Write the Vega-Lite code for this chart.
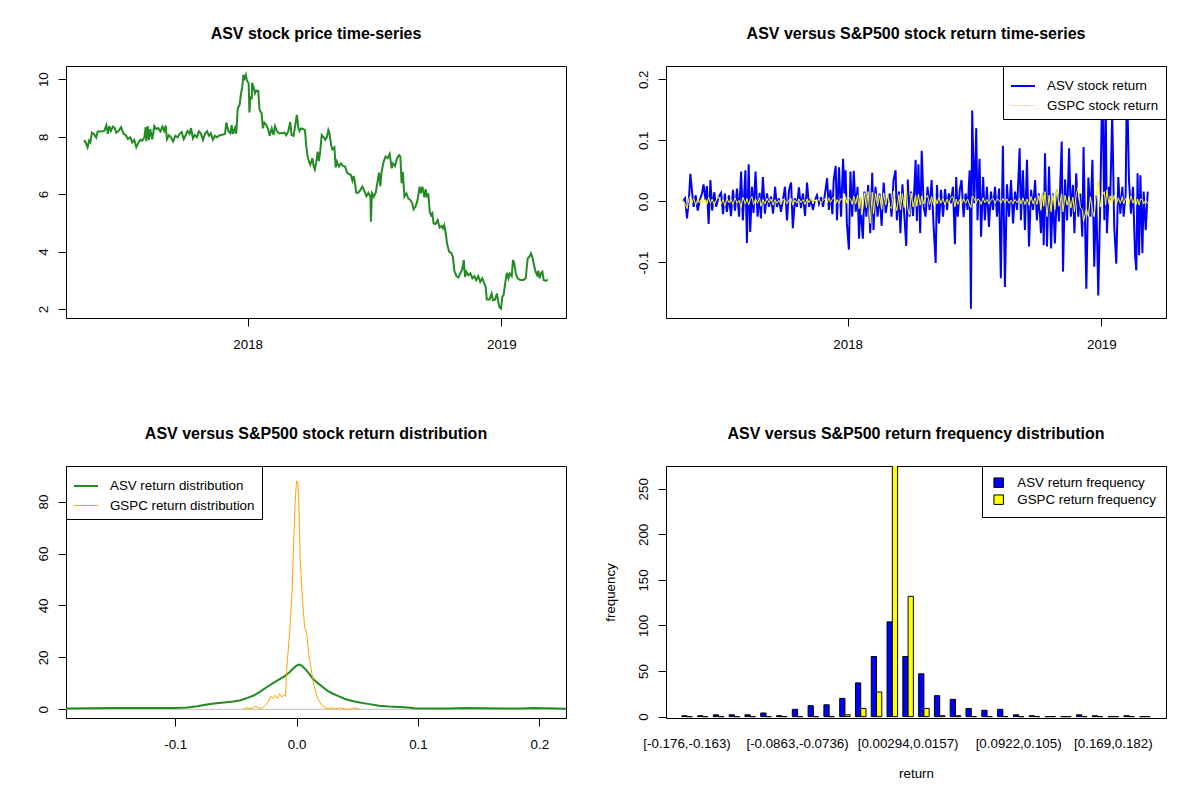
{
  "$schema": "https://vega.github.io/schema/vega-lite/v6.json",
  "padding": {"left": 35, "top": 25, "right": 5, "bottom": 5},
  "columns": 2,
  "spacing": {"row": 148, "column": 100},
  "bounds": "flush",
  "resolve": {"scale": {"color": "independent", "strokeWidth": "independent"}, "legend": {"color": "independent", "strokeWidth": "independent"}},
  "datasets": {
    "price": [
      {"t":2017.354,"price":7.86},{"t":2017.360,"price":7.83},{"t":2017.369,"price":7.63},{"t":2017.375,"price":7.86},{"t":2017.380,"price":7.80},
      {"t":2017.386,"price":8.14},{"t":2017.393,"price":8.10},{"t":2017.403,"price":7.97},{"t":2017.409,"price":8.18},{"t":2017.426,"price":8.19},
      {"t":2017.435,"price":8.20},{"t":2017.443,"price":8.40},{"t":2017.449,"price":8.10},{"t":2017.455,"price":8.37},{"t":2017.461,"price":8.20},
      {"t":2017.469,"price":8.35},{"t":2017.476,"price":8.30},{"t":2017.482,"price":8.14},{"t":2017.491,"price":8.20},{"t":2017.501,"price":8.33},
      {"t":2017.511,"price":8.10},{"t":2017.520,"price":8.05},{"t":2017.528,"price":7.92},{"t":2017.537,"price":7.98},{"t":2017.545,"price":7.80},
      {"t":2017.553,"price":7.89},{"t":2017.561,"price":7.63},{"t":2017.568,"price":7.77},{"t":2017.577,"price":7.89},{"t":2017.585,"price":7.86},
      {"t":2017.593,"price":7.98},{"t":2017.598,"price":8.33},{"t":2017.601,"price":7.84},{"t":2017.606,"price":8.37},{"t":2017.611,"price":7.89},
      {"t":2017.616,"price":8.26},{"t":2017.624,"price":7.91},{"t":2017.632,"price":8.37},{"t":2017.640,"price":8.26},{"t":2017.648,"price":8.30},
      {"t":2017.656,"price":8.18},{"t":2017.664,"price":8.35},{"t":2017.671,"price":8.20},{"t":2017.677,"price":8.39},{"t":2017.682,"price":7.91},
      {"t":2017.690,"price":8.05},{"t":2017.698,"price":7.98},{"t":2017.706,"price":7.83},{"t":2017.715,"price":8.03},{"t":2017.724,"price":7.98},
      {"t":2017.732,"price":8.10},{"t":2017.740,"price":8.16},{"t":2017.748,"price":7.91},{"t":2017.756,"price":8.06},{"t":2017.763,"price":8.20},
      {"t":2017.771,"price":8.10},{"t":2017.777,"price":8.30},{"t":2017.784,"price":7.94},{"t":2017.792,"price":8.06},{"t":2017.800,"price":7.98},
      {"t":2017.808,"price":8.19},{"t":2017.816,"price":8.10},{"t":2017.824,"price":7.89},{"t":2017.832,"price":8.10},{"t":2017.840,"price":8.19},
      {"t":2017.848,"price":8.03},{"t":2017.855,"price":8.12},{"t":2017.863,"price":7.89},{"t":2017.871,"price":8.03},{"t":2017.879,"price":7.98},
      {"t":2017.890,"price":8.05},{"t":2017.900,"price":8.07},{"t":2017.911,"price":8.10},{"t":2017.916,"price":8.49},{"t":2017.924,"price":8.20},
      {"t":2017.932,"price":8.12},{"t":2017.937,"price":8.40},{"t":2017.942,"price":8.10},{"t":2017.950,"price":8.30},{"t":2017.955,"price":8.10},
      {"t":2017.961,"price":8.99},{"t":2017.968,"price":9.10},{"t":2017.974,"price":9.51},{"t":2017.979,"price":9.74},{"t":2017.983,"price":10.15},
      {"t":2017.988,"price":10.03},{"t":2017.993,"price":10.15},{"t":2017.997,"price":9.95},{"t":2018.004,"price":9.86},{"t":2018.007,"price":8.84},
      {"t":2018.011,"price":9.40},{"t":2018.016,"price":9.30},{"t":2018.018,"price":9.88},{"t":2018.024,"price":9.69},{"t":2018.029,"price":9.51},
      {"t":2018.034,"price":9.60},{"t":2018.042,"price":9.59},{"t":2018.047,"price":8.93},{"t":2018.055,"price":8.82},{"t":2018.060,"price":8.29},
      {"t":2018.066,"price":8.49},{"t":2018.074,"price":8.40},{"t":2018.081,"price":8.26},{"t":2018.087,"price":8.03},{"t":2018.095,"price":8.29},
      {"t":2018.102,"price":8.06},{"t":2018.108,"price":8.37},{"t":2018.116,"price":8.18},{"t":2018.124,"price":8.12},{"t":2018.134,"price":8.12},
      {"t":2018.145,"price":8.14},{"t":2018.152,"price":8.05},{"t":2018.160,"price":8.18},{"t":2018.168,"price":8.51},{"t":2018.173,"price":8.06},
      {"t":2018.181,"price":8.03},{"t":2018.189,"price":8.47},{"t":2018.194,"price":8.76},{"t":2018.200,"price":8.29},{"t":2018.205,"price":8.20},
      {"t":2018.210,"price":8.29},{"t":2018.218,"price":8.27},{"t":2018.226,"price":8.23},{"t":2018.231,"price":7.68},{"t":2018.237,"price":7.28},
      {"t":2018.242,"price":7.13},{"t":2018.247,"price":7.02},{"t":2018.255,"price":7.25},{"t":2018.260,"price":6.98},{"t":2018.265,"price":6.86},
      {"t":2018.271,"price":7.13},{"t":2018.276,"price":7.48},{"t":2018.281,"price":7.15},{"t":2018.286,"price":7.48},{"t":2018.292,"price":8.06},
      {"t":2018.300,"price":7.98},{"t":2018.306,"price":7.89},{"t":2018.313,"price":8.00},{"t":2018.318,"price":8.23},{"t":2018.323,"price":8.10},
      {"t":2018.329,"price":7.71},{"t":2018.334,"price":7.56},{"t":2018.342,"price":7.63},{"t":2018.347,"price":6.93},{"t":2018.352,"price":7.13},
      {"t":2018.360,"price":6.96},{"t":2018.368,"price":7.07},{"t":2018.376,"price":6.98},{"t":2018.384,"price":6.96},{"t":2018.392,"price":6.75},
      {"t":2018.399,"price":6.70},{"t":2018.407,"price":6.67},{"t":2018.413,"price":6.47},{"t":2018.418,"price":6.63},{"t":2018.423,"price":6.40},
      {"t":2018.428,"price":6.05},{"t":2018.436,"price":6.05},{"t":2018.444,"price":6.14},{"t":2018.452,"price":6.26},{"t":2018.460,"price":6.12},
      {"t":2018.468,"price":5.93},{"t":2018.476,"price":6.05},{"t":2018.484,"price":5.91},{"t":2018.486,"price":5.04},{"t":2018.490,"price":6.03},
      {"t":2018.497,"price":5.91},{"t":2018.505,"price":6.05},{"t":2018.510,"price":6.32},{"t":2018.518,"price":6.75},{"t":2018.523,"price":6.28},
      {"t":2018.528,"price":6.78},{"t":2018.536,"price":7.13},{"t":2018.544,"price":7.31},{"t":2018.552,"price":7.25},{"t":2018.560,"price":7.40},
      {"t":2018.568,"price":6.90},{"t":2018.573,"price":7.07},{"t":2018.581,"price":6.98},{"t":2018.589,"price":7.25},{"t":2018.597,"price":7.36},
      {"t":2018.602,"price":7.31},{"t":2018.607,"price":6.38},{"t":2018.612,"price":6.78},{"t":2018.618,"price":5.91},{"t":2018.626,"price":6.03},
      {"t":2018.633,"price":5.85},{"t":2018.641,"price":5.80},{"t":2018.649,"price":5.68},{"t":2018.654,"price":5.47},{"t":2018.662,"price":5.57},
      {"t":2018.670,"price":5.80},{"t":2018.678,"price":6.26},{"t":2018.683,"price":6.03},{"t":2018.689,"price":6.26},{"t":2018.697,"price":5.89},
      {"t":2018.702,"price":6.17},{"t":2018.707,"price":5.89},{"t":2018.712,"price":6.03},{"t":2018.718,"price":5.39},{"t":2018.723,"price":5.27},
      {"t":2018.728,"price":5.33},{"t":2018.733,"price":4.98},{"t":2018.741,"price":4.96},{"t":2018.749,"price":5.10},{"t":2018.757,"price":4.84},
      {"t":2018.765,"price":4.89},{"t":2018.770,"price":4.81},{"t":2018.775,"price":4.92},{"t":2018.781,"price":4.63},{"t":2018.786,"price":4.29},
      {"t":2018.794,"price":4.00},{"t":2018.802,"price":3.96},{"t":2018.809,"price":3.82},{"t":2018.815,"price":3.33},{"t":2018.823,"price":3.15},
      {"t":2018.831,"price":3.10},{"t":2018.838,"price":3.24},{"t":2018.846,"price":3.38},{"t":2018.852,"price":3.71},{"t":2018.857,"price":3.12},
      {"t":2018.862,"price":3.30},{"t":2018.870,"price":3.18},{"t":2018.878,"price":3.24},{"t":2018.886,"price":3.07},{"t":2018.894,"price":3.15},
      {"t":2018.901,"price":3.01},{"t":2018.909,"price":3.15},{"t":2018.917,"price":2.95},{"t":2018.925,"price":3.07},{"t":2018.933,"price":2.89},
      {"t":2018.938,"price":2.78},{"t":2018.943,"price":2.33},{"t":2018.954,"price":2.33},{"t":2018.962,"price":2.54},{"t":2018.967,"price":2.31},
      {"t":2018.975,"price":2.33},{"t":2018.983,"price":2.54},{"t":2018.988,"price":2.25},{"t":2018.993,"price":2.06},{"t":2018.999,"price":2.02},
      {"t":2019.004,"price":2.43},{"t":2019.009,"price":2.49},{"t":2019.017,"price":3.01},{"t":2019.022,"price":3.26},{"t":2019.028,"price":3.07},
      {"t":2019.033,"price":3.24},{"t":2019.041,"price":3.15},{"t":2019.046,"price":3.71},{"t":2019.051,"price":3.59},{"t":2019.057,"price":3.24},
      {"t":2019.064,"price":3.07},{"t":2019.075,"price":3.01},{"t":2019.088,"price":3.01},{"t":2019.096,"price":3.07},{"t":2019.104,"price":3.76},
      {"t":2019.112,"price":3.84},{"t":2019.117,"price":3.94},{"t":2019.122,"price":3.82},{"t":2019.128,"price":3.57},{"t":2019.135,"price":3.30},
      {"t":2019.141,"price":3.18},{"t":2019.146,"price":3.33},{"t":2019.151,"price":3.07},{"t":2019.156,"price":3.24},{"t":2019.162,"price":3.30},
      {"t":2019.167,"price":3.01},{"t":2019.175,"price":2.98},{"t":2019.183,"price":3.03}
    ],
    "returns": [
      {"t":2017.351,"asv":0.000,"gspc":0.002},{"t":2017.359,"asv":0.005,"gspc":-0.004},{"t":2017.367,"asv":-0.028,"gspc":-0.012},
      {"t":2017.375,"asv":0.008,"gspc":0.006},{"t":2017.380,"asv":0.045,"gspc":0.008},{"t":2017.386,"asv":0.019,"gspc":-0.003},
      {"t":2017.393,"asv":-0.009,"gspc":0.005},{"t":2017.401,"asv":0.010,"gspc":-0.006},{"t":2017.409,"asv":-0.015,"gspc":0.004},
      {"t":2017.417,"asv":0.002,"gspc":-0.002},{"t":2017.426,"asv":0.013,"gspc":0.006},{"t":2017.432,"asv":0.028,"gspc":-0.004},
      {"t":2017.440,"asv":0.002,"gspc":0.003},{"t":2017.445,"asv":0.025,"gspc":-0.005},{"t":2017.452,"asv":-0.037,"gspc":0.007},
      {"t":2017.459,"asv":0.035,"gspc":-0.003},{"t":2017.466,"asv":-0.015,"gspc":0.004},{"t":2017.474,"asv":0.015,"gspc":-0.006},
      {"t":2017.482,"asv":-0.009,"gspc":0.002},{"t":2017.491,"asv":0.007,"gspc":0.008},{"t":2017.501,"asv":0.014,"gspc":-0.004},
      {"t":2017.509,"asv":-0.021,"gspc":0.003},{"t":2017.516,"asv":0.013,"gspc":-0.007},{"t":2017.524,"asv":-0.017,"gspc":0.005},
      {"t":2017.532,"asv":0.010,"gspc":-0.002},{"t":2017.540,"asv":-0.024,"gspc":0.004},{"t":2017.548,"asv":0.019,"gspc":-0.005},
      {"t":2017.556,"asv":-0.015,"gspc":0.006},{"t":2017.564,"asv":0.021,"gspc":-0.003},{"t":2017.572,"asv":-0.025,"gspc":0.002},
      {"t":2017.580,"asv":0.049,"gspc":-0.010},{"t":2017.587,"asv":-0.031,"gspc":0.007},{"t":2017.597,"asv":0.051,"gspc":-0.004},
      {"t":2017.603,"asv":-0.068,"gspc":0.005},{"t":2017.610,"asv":0.061,"gspc":-0.006},{"t":2017.616,"asv":-0.050,"gspc":0.003},
      {"t":2017.623,"asv":0.024,"gspc":0.008},{"t":2017.629,"asv":-0.019,"gspc":-0.005},{"t":2017.637,"asv":0.049,"gspc":0.004},
      {"t":2017.645,"asv":-0.025,"gspc":-0.003},{"t":2017.653,"asv":0.014,"gspc":0.006},{"t":2017.658,"asv":-0.028,"gspc":-0.008},
      {"t":2017.666,"asv":0.040,"gspc":0.003},{"t":2017.674,"asv":-0.020,"gspc":-0.004},{"t":2017.682,"asv":0.013,"gspc":0.005},
      {"t":2017.690,"asv":-0.009,"gspc":-0.002},{"t":2017.698,"asv":0.008,"gspc":0.004},{"t":2017.706,"asv":-0.020,"gspc":-0.006},
      {"t":2017.714,"asv":0.024,"gspc":0.003},{"t":2017.721,"asv":-0.009,"gspc":-0.003},{"t":2017.729,"asv":0.005,"gspc":0.002},
      {"t":2017.737,"asv":-0.017,"gspc":-0.005},{"t":2017.745,"asv":0.002,"gspc":0.004},{"t":2017.753,"asv":0.024,"gspc":0.002},
      {"t":2017.761,"asv":-0.031,"gspc":-0.004},{"t":2017.769,"asv":0.019,"gspc":0.003},{"t":2017.777,"asv":0.031,"gspc":0.005},
      {"t":2017.784,"asv":-0.044,"gspc":-0.006},{"t":2017.792,"asv":0.005,"gspc":0.002},{"t":2017.800,"asv":-0.009,"gspc":-0.003},
      {"t":2017.808,"asv":0.023,"gspc":0.004},{"t":2017.816,"asv":-0.011,"gspc":-0.002},{"t":2017.824,"asv":0.013,"gspc":0.003},
      {"t":2017.832,"asv":-0.024,"gspc":-0.005},{"t":2017.840,"asv":0.031,"gspc":0.004},{"t":2017.848,"asv":-0.009,"gspc":-0.002},
      {"t":2017.855,"asv":0.005,"gspc":0.006},{"t":2017.863,"asv":-0.014,"gspc":-0.004},{"t":2017.871,"asv":0.002,"gspc":0.003},
      {"t":2017.879,"asv":0.010,"gspc":-0.002},{"t":2017.887,"asv":-0.004,"gspc":0.005},{"t":2017.895,"asv":0.007,"gspc":-0.003},
      {"t":2017.903,"asv":-0.009,"gspc":0.002},{"t":2017.911,"asv":0.013,"gspc":0.004},{"t":2017.919,"asv":0.038,"gspc":-0.003},
      {"t":2017.926,"asv":-0.014,"gspc":0.006},{"t":2017.932,"asv":0.019,"gspc":-0.002},{"t":2017.940,"asv":-0.021,"gspc":0.004},
      {"t":2017.945,"asv":0.035,"gspc":0.007},{"t":2017.953,"asv":0.058,"gspc":-0.004},{"t":2017.958,"asv":-0.031,"gspc":0.003},
      {"t":2017.966,"asv":0.056,"gspc":-0.003},{"t":2017.974,"asv":-0.025,"gspc":0.005},{"t":2017.982,"asv":0.070,"gspc":0.002},
      {"t":2017.987,"asv":0.013,"gspc":-0.004},{"t":2017.992,"asv":0.051,"gspc":0.008},{"t":2017.997,"asv":-0.036,"gspc":-0.003},
      {"t":2018.005,"asv":-0.079,"gspc":0.006},{"t":2018.011,"asv":0.049,"gspc":0.004},{"t":2018.018,"asv":-0.025,"gspc":-0.005},
      {"t":2018.024,"asv":0.050,"gspc":0.009},{"t":2018.032,"asv":-0.017,"gspc":-0.004},{"t":2018.039,"asv":0.024,"gspc":0.010},
      {"t":2018.045,"asv":-0.061,"gspc":-0.012},{"t":2018.050,"asv":0.005,"gspc":0.008},{"t":2018.055,"asv":-0.036,"gspc":-0.022},
      {"t":2018.060,"asv":-0.061,"gspc":-0.012},{"t":2018.066,"asv":0.016,"gspc":0.014},{"t":2018.074,"asv":-0.025,"gspc":-0.010},
      {"t":2018.081,"asv":0.027,"gspc":0.016},{"t":2018.089,"asv":-0.052,"gspc":-0.036},{"t":2018.097,"asv":0.047,"gspc":0.015},
      {"t":2018.102,"asv":-0.047,"gspc":-0.020},{"t":2018.110,"asv":0.024,"gspc":0.013},{"t":2018.118,"asv":-0.025,"gspc":-0.008},
      {"t":2018.126,"asv":0.013,"gspc":0.010},{"t":2018.134,"asv":-0.040,"gspc":-0.013},{"t":2018.142,"asv":0.031,"gspc":0.014},
      {"t":2018.150,"asv":-0.019,"gspc":-0.006},{"t":2018.158,"asv":0.002,"gspc":0.012},{"t":2018.166,"asv":0.013,"gspc":-0.009},
      {"t":2018.173,"asv":-0.025,"gspc":-0.012},{"t":2018.181,"asv":0.035,"gspc":0.017},{"t":2018.189,"asv":0.051,"gspc":-0.007},
      {"t":2018.194,"asv":-0.031,"gspc":-0.015},{"t":2018.202,"asv":0.016,"gspc":0.011},{"t":2018.208,"asv":-0.052,"gspc":-0.014},
      {"t":2018.216,"asv":0.028,"gspc":0.013},{"t":2018.223,"asv":-0.020,"gspc":-0.010},{"t":2018.231,"asv":-0.073,"gspc":0.027},
      {"t":2018.237,"asv":0.036,"gspc":-0.012},{"t":2018.244,"asv":-0.025,"gspc":-0.022},{"t":2018.250,"asv":0.016,"gspc":0.014},
      {"t":2018.258,"asv":-0.024,"gspc":-0.009},{"t":2018.268,"asv":0.068,"gspc":0.010},{"t":2018.273,"asv":-0.032,"gspc":-0.008},
      {"t":2018.279,"asv":0.061,"gspc":0.012},{"t":2018.286,"asv":-0.052,"gspc":-0.006},{"t":2018.292,"asv":0.083,"gspc":0.009},
      {"t":2018.300,"asv":-0.009,"gspc":-0.004},{"t":2018.307,"asv":-0.025,"gspc":0.006},{"t":2018.315,"asv":0.024,"gspc":0.010},
      {"t":2018.323,"asv":-0.014,"gspc":-0.005},{"t":2018.331,"asv":0.035,"gspc":0.008},{"t":2018.339,"asv":-0.042,"gspc":-0.006},
      {"t":2018.347,"asv":-0.101,"gspc":0.004},{"t":2018.352,"asv":0.027,"gspc":-0.004},{"t":2018.360,"asv":-0.036,"gspc":0.007},
      {"t":2018.368,"asv":0.019,"gspc":-0.003},{"t":2018.376,"asv":-0.025,"gspc":0.005},{"t":2018.384,"asv":0.020,"gspc":-0.006},
      {"t":2018.392,"asv":-0.014,"gspc":0.004},{"t":2018.399,"asv":0.013,"gspc":-0.004},{"t":2018.407,"asv":-0.003,"gspc":0.006},
      {"t":2018.415,"asv":0.024,"gspc":0.008},{"t":2018.423,"asv":-0.070,"gspc":-0.009},{"t":2018.428,"asv":0.040,"gspc":0.004},
      {"t":2018.434,"asv":-0.025,"gspc":-0.005},{"t":2018.442,"asv":0.019,"gspc":0.003},{"t":2018.449,"asv":0.035,"gspc":-0.004},
      {"t":2018.457,"asv":-0.026,"gspc":0.005},{"t":2018.465,"asv":0.013,"gspc":-0.003},{"t":2018.473,"asv":-0.014,"gspc":0.004},
      {"t":2018.481,"asv":0.051,"gspc":-0.006},{"t":2018.486,"asv":-0.176,"gspc":-0.010},{"t":2018.491,"asv":0.149,"gspc":0.009},
      {"t":2018.499,"asv":-0.003,"gspc":0.005},{"t":2018.507,"asv":0.120,"gspc":-0.003},{"t":2018.512,"asv":-0.031,"gspc":0.004},
      {"t":2018.520,"asv":0.070,"gspc":0.002},{"t":2018.526,"asv":-0.058,"gspc":-0.005},{"t":2018.534,"asv":0.040,"gspc":0.006},
      {"t":2018.541,"asv":-0.031,"gspc":-0.002},{"t":2018.549,"asv":0.024,"gspc":0.003},{"t":2018.557,"asv":-0.042,"gspc":-0.004},
      {"t":2018.565,"asv":0.016,"gspc":0.002},{"t":2018.573,"asv":-0.014,"gspc":0.005},{"t":2018.581,"asv":0.024,"gspc":-0.003},
      {"t":2018.589,"asv":-0.025,"gspc":0.004},{"t":2018.597,"asv":0.021,"gspc":0.002},{"t":2018.604,"asv":-0.126,"gspc":-0.003},
      {"t":2018.612,"asv":0.091,"gspc":0.005},{"t":2018.620,"asv":-0.140,"gspc":-0.002},{"t":2018.628,"asv":0.028,"gspc":0.004},
      {"t":2018.636,"asv":-0.025,"gspc":-0.003},{"t":2018.644,"asv":0.035,"gspc":0.002},{"t":2018.652,"asv":-0.036,"gspc":-0.004},
      {"t":2018.660,"asv":0.016,"gspc":0.003},{"t":2018.668,"asv":-0.014,"gspc":-0.002},{"t":2018.678,"asv":0.087,"gspc":0.005},
      {"t":2018.683,"asv":-0.031,"gspc":-0.004},{"t":2018.691,"asv":0.051,"gspc":0.006},{"t":2018.699,"asv":-0.047,"gspc":-0.005},
      {"t":2018.707,"asv":0.068,"gspc":0.004},{"t":2018.715,"asv":-0.074,"gspc":-0.006},{"t":2018.723,"asv":0.019,"gspc":0.008},
      {"t":2018.731,"asv":-0.014,"gspc":-0.004},{"t":2018.739,"asv":0.035,"gspc":0.006},{"t":2018.746,"asv":-0.031,"gspc":-0.005},
      {"t":2018.754,"asv":0.013,"gspc":0.010},{"t":2018.762,"asv":-0.052,"gspc":-0.014},{"t":2018.770,"asv":0.013,"gspc":0.012},
      {"t":2018.773,"asv":-0.072,"gspc":-0.008},{"t":2018.778,"asv":0.079,"gspc":0.016},{"t":2018.786,"asv":-0.074,"gspc":-0.025},
      {"t":2018.794,"asv":0.057,"gspc":0.010},{"t":2018.802,"asv":-0.077,"gspc":-0.017},{"t":2018.809,"asv":0.013,"gspc":0.011},
      {"t":2018.817,"asv":-0.069,"gspc":-0.013},{"t":2018.825,"asv":0.019,"gspc":0.021},{"t":2018.833,"asv":-0.033,"gspc":-0.008},
      {"t":2018.844,"asv":0.098,"gspc":0.012},{"t":2018.849,"asv":-0.115,"gspc":-0.017},{"t":2018.857,"asv":0.036,"gspc":0.010},
      {"t":2018.865,"asv":-0.031,"gspc":-0.006},{"t":2018.873,"asv":0.087,"gspc":0.008},{"t":2018.880,"asv":-0.025,"gspc":-0.011},
      {"t":2018.888,"asv":0.027,"gspc":0.007},{"t":2018.894,"asv":-0.052,"gspc":-0.017},{"t":2018.901,"asv":0.046,"gspc":0.011},
      {"t":2018.909,"asv":-0.025,"gspc":0.024},{"t":2018.917,"asv":0.013,"gspc":-0.009},{"t":2018.925,"asv":-0.058,"gspc":-0.014},
      {"t":2018.930,"asv":0.089,"gspc":-0.033},{"t":2018.941,"asv":-0.143,"gspc":-0.012},{"t":2018.949,"asv":0.039,"gspc":-0.025},
      {"t":2018.957,"asv":-0.025,"gspc":0.008},{"t":2018.965,"asv":0.068,"gspc":-0.015},{"t":2018.972,"asv":-0.107,"gspc":-0.025},
      {"t":2018.980,"asv":0.010,"gspc":0.012},{"t":2018.988,"asv":-0.154,"gspc":0.035},{"t":2018.996,"asv":0.002,"gspc":-0.009},
      {"t":2019.004,"asv":0.199,"gspc":0.010},{"t":2019.012,"asv":-0.031,"gspc":0.016},{"t":2019.017,"asv":0.177,"gspc":-0.006},
      {"t":2019.022,"asv":-0.052,"gspc":0.019},{"t":2019.030,"asv":0.024,"gspc":-0.004},{"t":2019.035,"asv":0.002,"gspc":0.009},
      {"t":2019.043,"asv":0.144,"gspc":-0.003},{"t":2019.051,"asv":-0.042,"gspc":0.010},{"t":2019.059,"asv":-0.102,"gspc":-0.005},
      {"t":2019.067,"asv":0.040,"gspc":0.006},{"t":2019.075,"asv":-0.020,"gspc":-0.003},{"t":2019.083,"asv":0.024,"gspc":0.008},
      {"t":2019.088,"asv":-0.025,"gspc":-0.004},{"t":2019.096,"asv":0.013,"gspc":0.005},{"t":2019.101,"asv":0.206,"gspc":0.003},
      {"t":2019.109,"asv":0.035,"gspc":-0.004},{"t":2019.117,"asv":-0.020,"gspc":0.009},{"t":2019.125,"asv":0.024,"gspc":-0.003},
      {"t":2019.133,"asv":-0.088,"gspc":0.007},{"t":2019.138,"asv":-0.113,"gspc":-0.005},{"t":2019.143,"asv":0.046,"gspc":0.004},
      {"t":2019.149,"asv":-0.088,"gspc":-0.006},{"t":2019.154,"asv":0.043,"gspc":0.004},{"t":2019.162,"asv":-0.085,"gspc":0.003},
      {"t":2019.167,"asv":0.016,"gspc":-0.004},{"t":2019.175,"asv":-0.047,"gspc":0.002},{"t":2019.183,"asv":0.016,"gspc":-0.004}
    ],
    "density": [
      {"ret":-0.190,"density":0.3,"series":"asv"},{"ret":-0.170,"density":0.4,"series":"asv"},{"ret":-0.150,"density":0.5,"series":"asv"},
      {"ret":-0.120,"density":0.5,"series":"asv"},{"ret":-0.100,"density":0.55,"series":"asv"},{"ret":-0.090,"density":0.7,"series":"asv"},
      {"ret":-0.082,"density":1.2,"series":"asv"},{"ret":-0.075,"density":1.8,"series":"asv"},{"ret":-0.068,"density":2.2,"series":"asv"},
      {"ret":-0.060,"density":2.6,"series":"asv"},{"ret":-0.052,"density":3.0,"series":"asv"},{"ret":-0.046,"density":3.5,"series":"asv"},
      {"ret":-0.040,"density":4.5,"series":"asv"},{"ret":-0.035,"density":5.4,"series":"asv"},{"ret":-0.030,"density":6.8,"series":"asv"},
      {"ret":-0.025,"density":8.4,"series":"asv"},{"ret":-0.020,"density":9.9,"series":"asv"},{"ret":-0.015,"density":11.3,"series":"asv"},
      {"ret":-0.010,"density":12.7,"series":"asv"},{"ret":-0.006,"density":14.2,"series":"asv"},{"ret":-0.003,"density":15.6,"series":"asv"},
      {"ret":0.000,"density":16.8,"series":"asv"},{"ret":0.002,"density":17.2,"series":"asv"},{"ret":0.004,"density":16.9,"series":"asv"},
      {"ret":0.007,"density":15.6,"series":"asv"},{"ret":0.010,"density":13.9,"series":"asv"},{"ret":0.014,"density":11.5,"series":"asv"},
      {"ret":0.018,"density":9.9,"series":"asv"},{"ret":0.022,"density":8.4,"series":"asv"},{"ret":0.026,"density":7.0,"series":"asv"},
      {"ret":0.030,"density":6.0,"series":"asv"},{"ret":0.035,"density":5.0,"series":"asv"},{"ret":0.040,"density":4.0,"series":"asv"},
      {"ret":0.046,"density":3.2,"series":"asv"},{"ret":0.052,"density":2.6,"series":"asv"},{"ret":0.060,"density":2.0,"series":"asv"},
      {"ret":0.068,"density":1.4,"series":"asv"},{"ret":0.076,"density":1.1,"series":"asv"},{"ret":0.085,"density":0.9,"series":"asv"},
      {"ret":0.092,"density":0.7,"series":"asv"},{"ret":0.097,"density":0.4,"series":"asv"},{"ret":0.110,"density":0.3,"series":"asv"},
      {"ret":0.125,"density":0.35,"series":"asv"},{"ret":0.140,"density":0.5,"series":"asv"},{"ret":0.155,"density":0.45,"series":"asv"},
      {"ret":0.170,"density":0.3,"series":"asv"},{"ret":0.185,"density":0.35,"series":"asv"},{"ret":0.195,"density":0.5,"series":"asv"},
      {"ret":0.205,"density":0.45,"series":"asv"},{"ret":0.215,"density":0.3,"series":"asv"},{"ret":0.222,"density":0.25,"series":"asv"},
      {"ret":-0.0437,"density":0.0,"series":"gspc"},{"ret":-0.0409,"density":0.6,"series":"gspc"},{"ret":-0.0368,"density":0.3,"series":"gspc"},
      {"ret":-0.0341,"density":1.2,"series":"gspc"},{"ret":-0.0313,"density":0.6,"series":"gspc"},{"ret":-0.0286,"density":0.3,"series":"gspc"},
      {"ret":-0.0258,"density":1.5,"series":"gspc"},{"ret":-0.0231,"density":3.2,"series":"gspc"},{"ret":-0.0212,"density":5.0,"series":"gspc"},
      {"ret":-0.0195,"density":4.1,"series":"gspc"},{"ret":-0.0176,"density":5.4,"series":"gspc"},{"ret":-0.0157,"density":4.1,"series":"gspc"},
      {"ret":-0.0140,"density":6.0,"series":"gspc"},{"ret":-0.0121,"density":4.7,"series":"gspc"},{"ret":-0.0102,"density":5.5,"series":"gspc"},
      {"ret":-0.0091,"density":5.0,"series":"gspc"},{"ret":-0.0080,"density":16.3,"series":"gspc"},{"ret":-0.0058,"density":29.1,"series":"gspc"},
      {"ret":-0.0038,"density":44.5,"series":"gspc"},{"ret":-0.0025,"density":62.5,"series":"gspc"},{"ret":-0.0011,"density":80.5,"series":"gspc"},
      {"ret":0.0000,"density":87.9,"series":"gspc"},{"ret":0.0011,"density":87.5,"series":"gspc"},{"ret":0.0019,"density":79.2,"series":"gspc"},
      {"ret":0.0030,"density":57.4,"series":"gspc"},{"ret":0.0049,"density":42.0,"series":"gspc"},{"ret":0.0066,"density":31.7,"series":"gspc"},
      {"ret":0.0085,"density":29.1,"series":"gspc"},{"ret":0.0099,"density":21.4,"series":"gspc"},{"ret":0.0118,"density":16.3,"series":"gspc"},
      {"ret":0.0140,"density":9.9,"series":"gspc"},{"ret":0.0162,"density":6.0,"series":"gspc"},{"ret":0.0181,"density":3.5,"series":"gspc"},
      {"ret":0.0209,"density":1.5,"series":"gspc"},{"ret":0.0236,"density":0.6,"series":"gspc"},{"ret":0.0264,"density":0.3,"series":"gspc"},
      {"ret":0.0291,"density":0.6,"series":"gspc"},{"ret":0.0319,"density":0.1,"series":"gspc"},{"ret":0.0360,"density":0.6,"series":"gspc"},
      {"ret":0.0401,"density":0.0,"series":"gspc"},{"ret":0.0442,"density":0.0,"series":"gspc"},{"ret":0.0470,"density":0.6,"series":"gspc"},
      {"ret":0.0497,"density":0.3,"series":"gspc"},{"ret":0.0519,"density":0.0,"series":"gspc"}
    ],
    "hist": [
      {"bin":"[-0.176,-0.163)","asv":1,"gspc":0},{"bin":"[-0.163,-0.15)","asv":1,"gspc":0},{"bin":"[-0.15,-0.137)","asv":2,"gspc":0},
      {"bin":"[-0.137,-0.125)","asv":2,"gspc":0},{"bin":"[-0.125,-0.112)","asv":2,"gspc":0},{"bin":"[-0.112,-0.099)","asv":4,"gspc":0},
      {"bin":"[-0.099,-0.0863)","asv":1,"gspc":0},{"bin":"[-0.0863,-0.0736)","asv":8,"gspc":0},{"bin":"[-0.0736,-0.0608)","asv":12,"gspc":0},
      {"bin":"[-0.0608,-0.0481)","asv":13,"gspc":0},{"bin":"[-0.0481,-0.0353)","asv":20,"gspc":2},{"bin":"[-0.0353,-0.0226)","asv":37,"gspc":9},
      {"bin":"[-0.0226,-0.00981)","asv":66,"gspc":27},{"bin":"[-0.00981,0.00294)","asv":104,"gspc":279},{"bin":"[0.00294,0.0157)","asv":66,"gspc":132},
      {"bin":"[0.0157,0.0284)","asv":47,"gspc":9},{"bin":"[0.0284,0.0412)","asv":23,"gspc":1},{"bin":"[0.0412,0.0539)","asv":19,"gspc":1},
      {"bin":"[0.0539,0.0667)","asv":9,"gspc":0},{"bin":"[0.0667,0.0794)","asv":7,"gspc":0},{"bin":"[0.0794,0.0922)","asv":8,"gspc":0},
      {"bin":"[0.0922,0.105)","asv":2,"gspc":0},{"bin":"[0.105,0.118)","asv":1,"gspc":0},{"bin":"[0.118,0.13)","asv":0,"gspc":0},
      {"bin":"[0.13,0.143)","asv":0,"gspc":0},{"bin":"[0.143,0.156)","asv":2,"gspc":0},{"bin":"[0.156,0.169)","asv":1,"gspc":0},
      {"bin":"[0.169,0.182)","asv":0,"gspc":0},{"bin":"[0.182,0.194)","asv":1,"gspc":0},{"bin":"[0.194,0.207)","asv":0,"gspc":0}
    ]
  },
  "concat": [
    {
      "width": 500,
      "height": 252,
      "title": "ASV stock price time-series",
      "data": {"name": "price"},
      "mark": {"type": "line", "color": "#228B22", "strokeWidth": 2, "clip": true},
      "encoding": {
        "x": {"field": "t", "type": "quantitative", "title": null,
              "scale": {"domain": [2017.284, 2019.255], "nice": false, "zero": false},
              "axis": {"values": [2018, 2019], "format": "d"}},
        "y": {"field": "price", "type": "quantitative", "title": null,
              "scale": {"domain": [1.69, 10.46], "nice": false, "zero": false},
              "axis": {"values": [2, 4, 6, 8, 10]}}
      }
    },
    {
      "width": 500,
      "height": 252,
      "title": "ASV versus S&P500 stock return time-series",
      "data": {"name": "returns"},
      "transform": [{"fold": ["asv", "gspc"], "as": ["series", "r"]}],
      "mark": {"type": "line", "clip": true},
      "encoding": {
        "x": {"field": "t", "type": "quantitative", "title": null,
              "scale": {"domain": [2017.284, 2019.255], "nice": false, "zero": false},
              "axis": {"values": [2018, 2019], "format": "d"}},
        "y": {"field": "r", "type": "quantitative", "title": null,
              "scale": {"domain": [-0.191, 0.2218], "nice": false, "zero": false},
              "axis": {"values": [-0.1, 0, 0.1, 0.2], "format": ".1f"}},
        "color": {"field": "series", "type": "nominal",
                  "scale": {"domain": ["asv", "gspc"], "range": ["#0000FF", "#FFFF00"]},
                  "legend": {"title": null, "orient": "top-right",
                             "labelExpr": "datum.value == 'asv' ? 'ASV stock return' : 'GSPC stock return'"}},
        "strokeWidth": {"field": "series", "type": "nominal",
                        "scale": {"domain": ["asv", "gspc"], "range": [2, 1]},
                        "legend": {"title": null, "orient": "top-right",
                                   "labelExpr": "datum.value == 'asv' ? 'ASV stock return' : 'GSPC stock return'"}}
      }
    },
    {
      "width": 500,
      "height": 252,
      "title": "ASV versus S&P500 stock return distribution",
      "layer": [
        {
          "data": {"values": [{"level": 0}]},
          "mark": {"type": "rule", "color": "#BEBEBE", "strokeWidth": 1},
          "encoding": {"y": {"field": "level", "type": "quantitative"}}
        },
        {
          "data": {"name": "density"},
          "mark": {"type": "line", "clip": true},
          "encoding": {
            "x": {"field": "ret", "type": "quantitative", "title": null,
                  "scale": {"domain": [-0.190, 0.222], "nice": false, "zero": false},
                  "axis": {"values": [-0.1, 0, 0.1, 0.2], "format": ".1f"}},
            "y": {"field": "density", "type": "quantitative", "title": null,
                  "scale": {"domain": [-3.34, 93.7], "nice": false, "zero": false},
                  "axis": {"values": [0, 20, 40, 60, 80]}},
            "color": {"field": "series", "type": "nominal",
                      "scale": {"domain": ["asv", "gspc"], "range": ["#228B22", "#FFA500"]},
                      "legend": {"title": null, "orient": "top-left",
                                 "labelExpr": "datum.value == 'asv' ? 'ASV return distribution' : 'GSPC return distribution'"}},
            "strokeWidth": {"field": "series", "type": "nominal",
                            "scale": {"domain": ["asv", "gspc"], "range": [2, 1]},
                            "legend": {"title": null, "orient": "top-left",
                                       "labelExpr": "datum.value == 'asv' ? 'ASV return distribution' : 'GSPC return distribution'"}}
          }
        }
      ]
    },
    {
      "width": 500,
      "height": 252,
      "title": "ASV versus S&P500 return frequency distribution",
      "data": {"name": "hist"},
      "transform": [{"fold": ["asv", "gspc"], "as": ["series", "count"]}],
      "mark": {"type": "bar", "stroke": "black", "strokeWidth": 1, "clip": true},
      "encoding": {
        "x": {"field": "bin", "type": "ordinal", "sort": null, "title": "return",
              "scale": {"paddingInner": 0.3333, "paddingOuter": 1.187},
              "axis": {"values": ["[-0.176,-0.163)", "[-0.0863,-0.0736)", "[0.00294,0.0157)", "[0.0922,0.105)", "[0.169,0.182)"],
                       "ticks": false, "tickSize": 0, "labelPadding": 18, "titlePadding": 17}},
        "xOffset": {"field": "series", "type": "nominal", "scale": {"domain": ["asv", "gspc"], "paddingInner": 0, "paddingOuter": 0}},
        "y": {"field": "count", "type": "quantitative", "title": "frequency",
              "scale": {"domain": [-1.5, 275], "nice": false},
              "axis": {"values": [0, 50, 100, 150, 200, 250], "titlePadding": 19}},
        "color": {"field": "series", "type": "nominal",
                  "scale": {"domain": ["asv", "gspc"], "range": ["#0000FF", "#FFFF00"]},
                  "legend": {"title": null, "orient": "top-right", "symbolType": "square", "symbolSize": 90,
                             "symbolStrokeColor": "black", "symbolStrokeWidth": 1, "labelOffset": 12,
                             "padding": 10, "rowPadding": 2,
                             "labelExpr": "datum.value == 'asv' ? 'ASV return frequency' : 'GSPC return frequency'"}}
      }
    }
  ],
  "config": {
    "font": "Liberation Sans",
    "background": "white",
    "locale": {"number": {"decimal": ".", "thousands": ",", "grouping": [3], "currency": ["$", ""], "minus": "-"}},
    "view": {"stroke": "black", "strokeWidth": 1},
    "axis": {
      "grid": false, "domain": false, "tickColor": "black", "tickSize": 8, "tickWidth": 1,
      "labelFontSize": 13.33, "labelColor": "black", "labelPadding": 8, "labelFlush": false, "labelOverlap": false,
      "titleFontSize": 13.33, "titleFontWeight": "normal", "titleColor": "black"
    },
    "axisY": {"labelAngle": -90, "labelAlign": "center", "labelBaseline": "bottom"},
    "axisX": {"labelAngle": 0, "labelAlign": "center", "labelBaseline": "top", "labelPadding": 11},
    "title": {"fontSize": 16, "fontWeight": "bold", "color": "black", "anchor": "middle", "frame": "group", "offset": 24, "baseline": "alphabetic"},
    "legend": {
      "offset": 0, "fillColor": "white", "strokeColor": "black", "padding": 7, "cornerRadius": 0,
      "labelFontSize": 13.33, "labelColor": "black", "labelOffset": 11, "rowPadding": -9, "symbolSize": 576
    }
  }
}
